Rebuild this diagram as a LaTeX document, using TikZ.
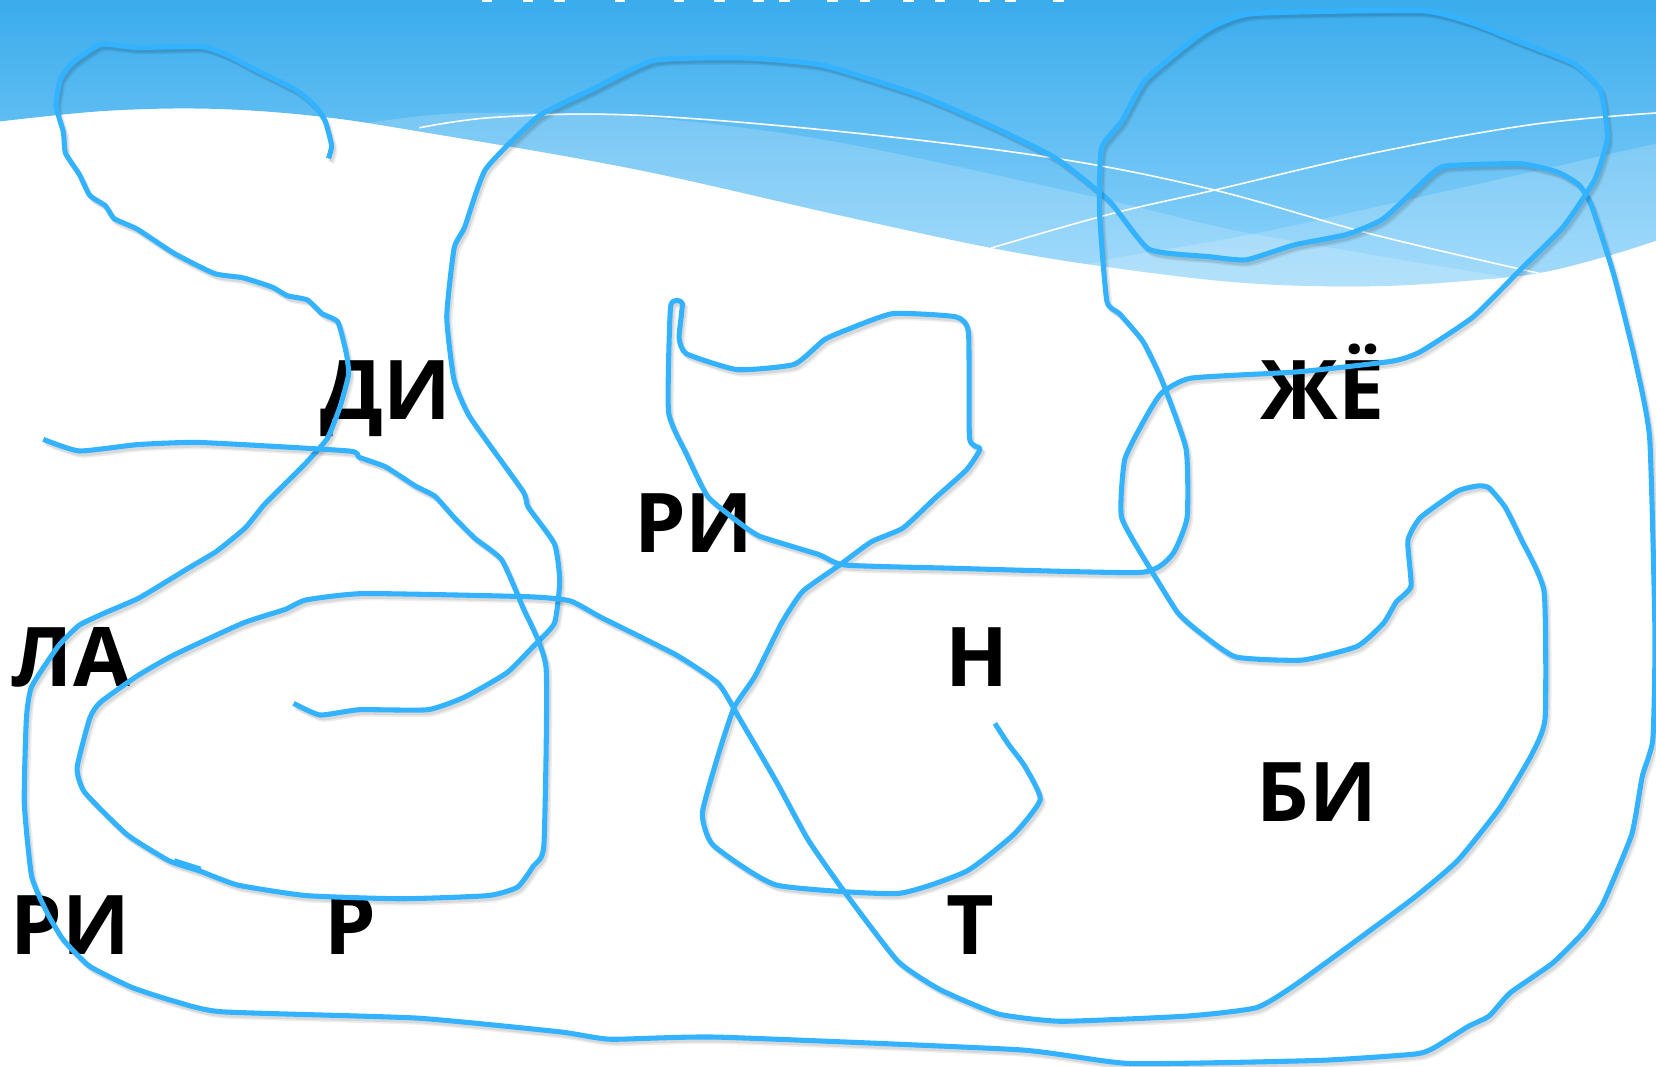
\documentclass[tikz,border=0pt]{standalone}
\usepackage{fontspec}
\setmainfont{Open Sans}
\definecolor{penblue}{HTML}{33B3FF}
\definecolor{capdark}{HTML}{3AACEC}
\definecolor{caplight}{HTML}{90D4FB}
\tikzset{
    syllable/.style={anchor=base, inner sep=0pt, font=\fontsize{78}{78}\bfseries\selectfont},
    handline/.style={draw=penblue, line width=4.8pt, line join=round,
        preaction={draw=black, opacity=0.07, line width=5pt, transform canvas={shift={(3,4)}}},
        preaction={draw=black, opacity=0.09, line width=4pt, transform canvas={shift={(2,3)}}}},
    swoosh/.style={fill=white, opacity=0.18},
    sheen/.style={draw=white, line width=1.5pt}
}
\begin{document}
\begin{tikzpicture}[x=1pt, y=-1pt]
    \useasboundingbox (0,0) rectangle (1568,1009.4);

    % Header
    \begin{scope}
        \clip plot[smooth, tension=0.6] coordinates {(0,115) (100,105) (200,103) (300,110) (400,125) (600,160) (800,205) (940,235) (1050,253) (1180,268) (1300,271) (1400,265) (1460,258) (1520,243) (1568,228)}
            -- (1568,0) -- (0,0) -- cycle;
        \shade[top color=capdark, bottom color=caplight] (0,0) rectangle (1568,272);
        \fill[swoosh] plot[smooth, tension=0.6] coordinates {(350,116) (420,108) (500,107) (600,110) (784,133) (1034,186) (1184,221) (1424,262)}
            -- (1424,300) -- (350,300) -- cycle;
        \fill[swoosh] plot[smooth, tension=0.6] coordinates {(1568,136) (1334,189) (1184,222) (1049,246) (1000,262)}
            -- (1000,300) -- (1568,300) -- cycle;
        \draw[sheen] plot[smooth, tension=0.6] coordinates {(397,121) (470,111) (600,109) (800,125) (1000,150) (1150,180) (1300,222) (1458,259)};
        \draw[sheen] plot[smooth, tension=0.6] coordinates {(938,235) (1050,203) (1150,180) (1300,145) (1450,118) (1568,107)};
    \end{scope}

    % Cut off title
    \foreach \x in {456,495,525,582,638,676,713,738,783,814,855,885,927,952,997}
        \fill[white] (\x,0) rectangle ++(10,1.5);

    % Syllables
    \node[syllable] at (365,397) (di)    {ДИ};
    \node[syllable] at (1252,397) (zhe)  {ЖЁ};
    \node[syllable] at (657,523) (ri)    {РИ};
    \node[syllable] at (67,650) (la)     {ЛА};
    \node[syllable] at (925,650) (n)     {Н};
    \node[syllable] at (1247,778) (bi)   {БИ};
    \node[syllable] at (67,904) (rileft) {РИ};
    \node[syllable] at (332,904) (r)     {Р};
    \node[syllable] at (919,904) (t)     {Т};

    % Hand drawn lines
    \draw[handline] plot[smooth, tension=0.3] coordinates {(311,150) (314,138) (308,115) (298,100) (280,85) (240,65) (215,52) (190,44) (130,45) (95,42) (68,60) (57,75) (53,100) (60,125) (62,145) (75,165) (85,185) (100,195) (108,207) (130,217) (165,240) (203,259) (230,263) (258,272) (272,280) (291,284) (305,297) (320,305) (328,335) (330,355) (322,385) (310,415) (290,438) (270,458) (250,478) (232,500) (205,522) (180,537) (132,566) (100,580) (75,592) (55,612) (30,650) (25,680) (23,760) (30,830) (45,865) (60,890) (85,915) (125,935) (165,948) (210,958) (395,964) (530,977) (578,984) (680,982) (965,994) (1070,1007) (1250,1004) (1340,998) (1358,992) (1390,972) (1410,962) (1430,940) (1470,912) (1500,882) (1518,855) (1545,790) (1555,735) (1565,700) (1567,600) (1562,415) (1548,340) (1528,260) (1507,195) (1495,175) (1475,163) (1440,155) (1370,157) (1355,165) (1310,207) (1275,222) (1225,232) (1180,246) (1145,243) (1088,236) (1050,190) (1000,150) (940,120) (870,90) (780,62) (710,55) (620,57) (560,85) (510,110) (460,160) (440,215) (430,235) (423,300) (430,360) (445,395) (495,465) (500,480) (525,515) (530,550) (525,590) (505,612) (480,637) (440,660) (405,672) (340,672) (303,677) (278,666)};

    \draw[handline] plot[smooth, tension=0.3] coordinates {(41,416) (75,427) (130,421) (190,419) (330,427) (340,433) (365,442) (393,460) (412,470) (430,490) (450,510) (475,530) (495,575) (517,632) (515,800) (505,820) (490,840) (462,848) (380,851) (290,848) (225,838) (190,825) (160,815) (120,790) (80,750) (73,727) (85,680) (95,665) (130,640) (165,620) (230,590) (270,577) (290,568) (345,562) (500,565) (540,569) (570,585) (640,620) (680,647) (700,680) (735,740) (765,795) (800,845) (850,910) (890,937) (945,960) (1005,967) (1125,962) (1190,954) (1230,930) (1335,853) (1380,815) (1420,765) (1450,715) (1463,680) (1462,560) (1440,510) (1425,480) (1410,462) (1400,460) (1380,465) (1345,490) (1333,512) (1336,555) (1322,570) (1310,590) (1285,612) (1233,625) (1170,622) (1135,598) (1115,580) (1090,540) (1062,490) (1065,435) (1085,395) (1100,372) (1128,358) (1230,352) (1318,342) (1345,333) (1395,300) (1440,255) (1480,215) (1510,170) (1522,130) (1515,85) (1490,60) (1440,40) (1395,22) (1345,10) (1185,13) (1140,30) (1085,75) (1062,115) (1043,140) (1041,200) (1048,285) (1060,297) (1082,323) (1100,360) (1123,425) (1124,490) (1110,525) (1080,542) (900,538) (800,535) (775,525) (720,508) (700,495) (670,470) (650,430) (633,390) (635,290) (646,287) (643,320) (650,335) (698,350) (752,345) (780,322) (800,313) (845,297) (905,300) (917,315) (918,415) (928,425) (915,445) (885,472) (855,500) (825,513) (795,535) (760,560) (740,590) (715,640) (695,670) (680,715) (665,770) (675,800) (735,838) (850,846) (915,825) (960,790) (985,757) (970,725) (955,705) (942,685)};

    % Small overlap of the pen
    \draw[draw=penblue, line width=4.8pt] (165,815) -- (190,823);
\end{tikzpicture}
\end{document}
